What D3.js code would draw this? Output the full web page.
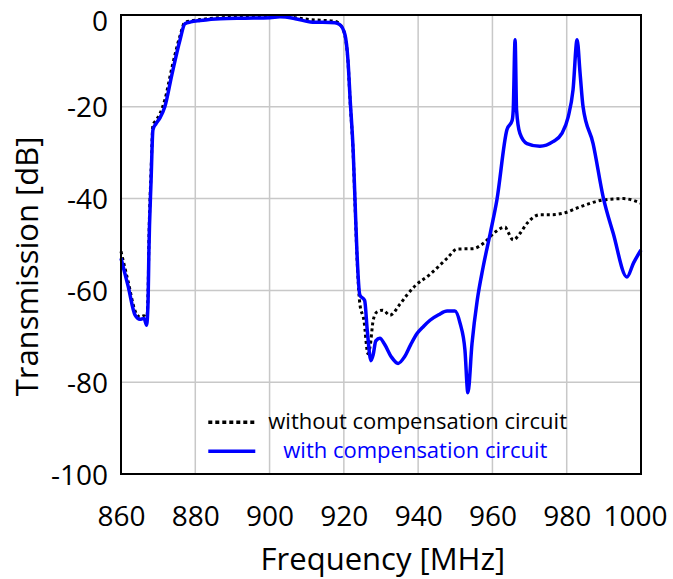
<!DOCTYPE html>
<html>
<head>
<meta charset="utf-8">
<script src="https://cdn.jsdelivr.net/npm/d3@7"></script>
<style>
  body { margin: 0; background: #fff; }
  svg { display: block; font-family: "Open Sans", sans-serif; }
</style>
</head>
<body>
<svg id="chart" width="673" height="579"></svg>
<script>

// Axis ticks
const xTicks = [860, 880, 900, 920, 940, 960, 980, 1000]
const yTicks = [0, -20, -40, -60, -80, -100]

// without compensation circuit (dotted black)
const withoutFreq = [860, 861.9, 863.8, 865.1, 866.2, 866.9, 867.3, 867.5, 868.1, 868.6, 869.4, 870.5, 871.8, 873.7, 875.9, 877.2, 878.8, 881.3, 886.7, 893.4, 900.1, 902.8, 906.9, 911, 917.6, 918.9, 920.3, 921.1, 921.7, 922.5, 923, 923.5, 924.3, 925.4, 926.5, 927.1, 927.9, 928.9, 930.5, 932.4, 935.1, 937, 939.2, 943.2, 947.8, 950.5, 954.8, 957.5, 960.7, 963.4, 964.2, 965.6, 967.4, 969.3, 972.8, 976, 979, 983.6, 989.8, 995.2, 1000]
const withoutDb = [-51.5, -58, -64.5, -65.8, -65.5, -66.5, -60, -50, -34, -24, -23, -21.5, -18.5, -11.5, -4.5, -1.6, -1.3, -1.0, -0.6, -0.4, -0.4, -0.3, -0.6, -1.0, -1.4, -2.0, -4.5, -10, -19, -30, -41, -52, -62.9, -66.5, -73.8, -72, -66.5, -64.7, -64.3, -65.4, -63, -61, -59, -56.5, -53, -51, -50.9, -49.8, -47.3, -46.2, -47.3, -49, -47.6, -45.4, -43.5, -43.5, -43.2, -41.8, -40.3, -40, -41]

// with compensation circuit (solid blue)
const withFreq = [860, 861.9, 863.8, 865.1, 866.2, 866.9, 867.3, 867.5, 868.1, 868.6, 869.4, 870.5, 871.8, 873.7, 875.9, 877.2, 878.8, 881.3, 886.7, 893.4, 900.1, 902.8, 906.9, 911, 917.6, 918.9, 920.3, 921.1, 921.7, 922.5, 923, 923.5, 924.3, 925.6, 926.3, 927.3, 927.9, 928.6, 929.7, 931, 932.8, 934.6, 936.3, 938, 939.7, 941.5, 943.2, 945.5, 947.8, 949.9, 951.3, 952.6, 953.4, 954.5, 955.9, 957.5, 959.4, 961.2, 963.9, 965.3, 965.6, 966.1, 966.5, 967.4, 969.3, 972.8, 976.3, 978.7, 980.4, 981.7, 982.8, 983.6, 984.4, 987.1, 989.8, 992.5, 996.2, 998, 1000]
const withDb = [-53, -59, -65.4, -66.3, -66.1, -67.6, -62, -52, -36, -25, -23.7, -22.4, -20, -13, -5.4, -1.9, -1.5, -1.2, -0.8, -0.7, -0.6, -0.4, -0.8, -1.5, -1.7, -2.1, -4.3, -9.8, -18.5, -29.4, -40.3, -51.2, -61, -62.2, -68.7, -75.3, -74, -71, -70.4, -71.8, -74.5, -75.9, -74.5, -71.8, -69.4, -67.8, -66.5, -65.3, -64.5, -64.5, -67.2, -73, -82.3, -71.6, -62.2, -54.9, -47.6, -40.3, -25, -23, -20.7, -5.4, -20.7, -25.8, -28, -28.6, -27.6, -25.8, -22.2, -16.3, -5.4, -12.7, -20, -28, -39.6, -47.5, -57.1, -54, -51.2]

const legendLabels = ['without compensation circuit', 'with compensation circuit']

const margin = {top: 15, right: 32, bottom: 105, left: 121}
const width = 673 - margin.left - margin.right
const height = 579 - margin.top - margin.bottom

const svg = d3.select('#chart')
const g = svg.append('g')
    .attr('transform', 'translate(' + margin.left + ',' + margin.top + ')')

const x = d3.scaleLinear().domain([860, 1000]).range([0, width])
const y = d3.scaleLinear().domain([-100, 0]).range([height, 0])

// Grid
g.append('g')
    .selectAll('line.vgrid')
    .data(xTicks)
    .enter()
    .append('line')
    .attr('x1', d => x(d)).attr('x2', d => x(d))
    .attr('y1', 0).attr('y2', height)
    .style('stroke', '#c8c8c8')
    .style('stroke-width', 1.5)

g.append('g')
    .selectAll('line.hgrid')
    .data(yTicks)
    .enter()
    .append('line')
    .attr('x1', 0).attr('x2', width)
    .attr('y1', d => y(d)).attr('y2', d => y(d))
    .style('stroke', '#c8c8c8')
    .style('stroke-width', 1.5)

// Axes (labels only)
const xAxis = g.append('g')
    .attr('transform', 'translate(0,' + height + ')')
    .call(d3.axisBottom(x).tickValues(xTicks).tickSize(0).tickPadding(32).tickFormat(d => String(d)))
xAxis.select('.domain').remove()
xAxis.selectAll('text')
    .style('font-size', '28px')
    .style('font-family', '"Open Sans", sans-serif')
    .style('fill', '#000')
    .attr('dx', d => d == 1000 ? -6 : 0)

const yAxis = g.append('g')
    .call(d3.axisLeft(y).tickValues(yTicks).tickSize(0).tickPadding(13).tickFormat(d => String(d)))
yAxis.select('.domain').remove()
yAxis.selectAll('text')
    .style('font-size', '28px')
    .style('font-family', '"Open Sans", sans-serif')
    .style('fill', '#000')
    .attr('dy', d => d == 0 ? '0.55em' : '0.36em')

// Curves
const line = d3.line()
    .curve(d3.curveMonotoneX)
    .x(d => x(d[0]))
    .y(d => y(d[1]))

const withoutData = withoutFreq.map((f, i) => [f, withoutDb[i]])
const withData = withFreq.map((f, i) => [f, withDb[i]])

g.append('path')
    .datum(withoutData)
    .attr('d', line)
    .style('fill', 'none')
    .style('stroke', '#000')
    .style('stroke-width', 3)
    .style('stroke-dasharray', '3,3')

g.append('path')
    .datum(withData)
    .attr('d', line)
    .style('fill', 'none')
    .style('stroke', '#0000ff')
    .style('stroke-width', 3.5)
    .style('stroke-linejoin', 'round')

// Plot frame
g.append('rect')
    .attr('width', width)
    .attr('height', height)
    .style('fill', 'none')
    .style('stroke', '#000')
    .style('stroke-width', 2)

// Legend
const legendStyles = [
    {color: '#000', dash: '4,3', textColor: '#000', dx: 0},
    {color: '#0000ff', dash: null, textColor: '#0000ff', dx: 15}
]
const legend = g.append('g')
    .attr('transform', 'translate(' + (x(883.5) ) + ',' + (y(-88.7)) + ')')

legend.selectAll('g.item')
    .data(legendLabels)
    .enter()
    .append('g')
    .attr('transform', (_, i) => 'translate(0,' + i * 29 + ')')
    .each(function(d, i) {
        const item = d3.select(this)
        item.append('line')
            .attr('x1', 0).attr('x2', 47)
            .attr('y1', 0).attr('y2', 0)
            .style('stroke', legendStyles[i].color)
            .style('stroke-width', 3.5)
            .style('stroke-dasharray', legendStyles[i].dash)
        item.append('text')
            .attr('x', 60 + legendStyles[i].dx)
            .attr('y', 0)
            .attr('dy', '0.3em')
            .style('font-size', '22px')
            .style('fill', legendStyles[i].textColor)
            .text(d)
    })

// Axis titles
svg.append('text')
    .attr('x', margin.left + x(930.5))
    .attr('y', 570)
    .attr('text-anchor', 'middle')
    .style('font-size', '31px')
    .text('Frequency [MHz]')

svg.append('text')
    .attr('transform', 'translate(38,' + (margin.top + y(-54.8)) + ') rotate(-90)')
    .attr('text-anchor', 'middle')
    .style('font-size', '31px')
    .text('Transmission [dB]')

</script>
</body>
</html>
